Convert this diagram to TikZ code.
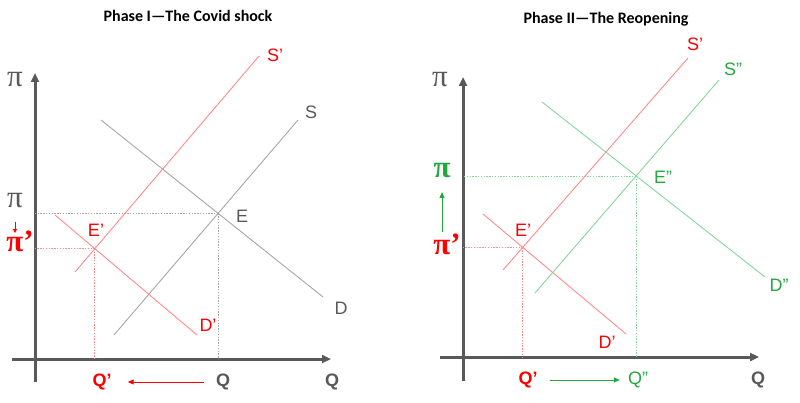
\documentclass[tikz,border=0pt]{standalone}
\usepackage{fontspec}
\setmainfont{Liberation Sans}
\newfontfamily\pifont{Liberation Serif}
\newfontfamily\titlefont{Carlito}
\usetikzlibrary{arrows.meta}
\definecolor{axgray}{HTML}{595959}
\definecolor{lngray}{HTML}{A6A6A6}
\definecolor{lbred}{HTML}{FF0000}
\definecolor{lnred}{HTML}{FF8A8C}
\definecolor{lbgreen}{HTML}{22A83C}
\definecolor{lngreen}{HTML}{86D69A}
\begin{document}
\begin{tikzpicture}[x=1pt,y=-1pt,
  axis/.style={line width=3pt,color=axgray,-{Triangle[length=9pt,width=8pt]}},
  curve/.style={line width=0.9pt},
  guide/.style={line width=0.8pt,dash pattern=on 1.4pt off 1.4pt},
  lbl/.style={font=\fontsize{18}{18}\selectfont,inner sep=0pt},
  qlbl/.style={font=\fontsize{18}{18}\selectfont\bfseries,inner sep=0pt},
  pilbl/.style={font=\fontsize{31}{31}\selectfont\pifont,inner sep=0pt},
  pibold/.style={font=\fontsize{31}{31}\selectfont\pifont\bfseries,inner sep=0pt},
  ttl/.style={font=\fontsize{16}{17}\selectfont\titlefont\bfseries,inner sep=0pt},
  shiftarrow/.style={line width=1pt,-{Triangle[length=6pt,width=5pt]}}]
\useasboundingbox (0,0) rectangle (800,403);
% ---------------- Panel I ----------------
\node[ttl] (t1) at (188,16) {Phase I—The Covid shock};
\coordinate (ay1b) at (35,382); \coordinate (ay1t) at (35,73);
\coordinate (ax1l) at (12,359); \coordinate (ax1r) at (331,359);
\draw[axis] (ay1b) -- (ay1t);
\draw[axis] (ax1l) -- (ax1r);
\coordinate (S1a) at (114,335); \coordinate (S1b) at (298,120);
\coordinate (D1a) at (101,120); \coordinate (D1b) at (323,297);
\coordinate (Sp1a) at (75,272); \coordinate (Sp1b) at (259,56);
\coordinate (Dp1a) at (55,215); \coordinate (Dp1b) at (197,335);
\coordinate (E1) at (intersection of S1a--S1b and D1a--D1b);
\coordinate (Ep1) at (intersection of Sp1a--Sp1b and Dp1a--Dp1b);
\draw[guide,lngray] (E1) -- (E1 -| ay1b);
\draw[guide,lngray] (E1) -- (E1 |- ax1l);
\draw[guide,lnred] (Ep1) -- (Ep1 -| ay1b);
\draw[guide,lnred] (Ep1) -- (Ep1 |- ax1l);
\draw[curve,lngray] (S1a) -- (S1b);
\draw[curve,lngray] (D1a) -- (D1b);
\draw[curve,lnred] (Sp1a) -- (Sp1b);
\draw[curve,lnred] (Dp1a) -- (Dp1b);
\node[pilbl,axgray] (pax1) at (15,80) {π};
\node[lbl,lbred] (lSp1) at (275,55) {S’};
\node[lbl,axgray] (lS1) at (311,112) {S};
\node[lbl,axgray] (lE1) at (242,216) {E};
\node[lbl,lbred] (lEp1) at (96,230) {E’};
\node[lbl,axgray] (lD1) at (341,308) {D};
\node[lbl,lbred] (lDp1) at (208,325) {D’};
\node[pilbl,axgray] (pi1) at (15,201) {π};
\node[pibold,lbred] (pip1) at (20,241) {π’};
\coordinate (a1s) at (15,222); \coordinate (a1e) at (15,233);
\draw[line width=0.9pt,lbred,-{Triangle[length=4pt,width=4pt]}] (a1s) -- (a1e);
\node[qlbl,lbred] (qp1) at (102,382) {Q’};
\node[qlbl,axgray] (q1) at (223,382) {Q};
\node[qlbl,axgray] (qax1) at (332,382) {Q};
\draw[shiftarrow,lbred] ([xshift=-12pt]q1.west) -- ([xshift=16pt]qp1.east);
% ---------------- Panel II ----------------
\node[ttl] (t2) at (606,19) {Phase II—The Reopening};
\coordinate (ay2b) at (463,381); \coordinate (ay2t) at (463,77);
\coordinate (ax2l) at (440,357); \coordinate (ax2r) at (759,357);
\draw[axis] (ay2b) -- (ay2t);
\draw[axis] (ax2l) -- (ax2r);
\coordinate (Sp2a) at (503,270); \coordinate (Sp2b) at (688,58);
\coordinate (Dp2a) at (483,214); \coordinate (Dp2b) at (626,334);
\coordinate (Spp2a) at (535,293); \coordinate (Spp2b) at (719,80);
\coordinate (Dpp2a) at (542,102); \coordinate (Dpp2b) at (765,277);
\coordinate (Ep2) at (intersection of Sp2a--Sp2b and Dp2a--Dp2b);
\coordinate (Epp2) at (intersection of Spp2a--Spp2b and Dpp2a--Dpp2b);
\draw[guide,lngreen] (Epp2) -- (Epp2 -| ay2b);
\draw[guide,lngreen] (Epp2) -- (Epp2 |- ax2l);
\draw[guide,lnred] (Ep2) -- (Ep2 -| ay2b);
\draw[guide,lnred] (Ep2) -- (Ep2 |- ax2l);
\draw[curve,lnred] (Sp2a) -- (Sp2b);
\draw[curve,lnred] (Dp2a) -- (Dp2b);
\draw[curve,lngreen] (Spp2a) -- (Spp2b);
\draw[curve,lngreen] (Dpp2a) -- (Dpp2b);
\node[pilbl,axgray] (pax2) at (440,80) {π};
\node[lbl,lbred] (lSp2) at (695,44) {S’};
\node[lbl,lbgreen] (lSpp2) at (733,69) {S”};
\node[lbl,lbgreen] (lEpp2) at (663,177) {E”};
\node[lbl,lbred] (lEp2) at (523,230) {E’};
\node[lbl,lbgreen] (lDpp2) at (779,285) {D”};
\node[lbl,lbred] (lDp2) at (607,342) {D’};
\node[pibold,lbgreen] (pi2) at (442,171) {π};
\node[pibold,lbred] (pip2) at (447,244) {π’};
\coordinate (a2s) at (442,232); \coordinate (a2e) at (442,192);
\draw[line width=1pt,lbgreen,-{Triangle[length=6pt,width=5pt]}] (a2s) -- (a2e);
\node[qlbl,lbred] (qp2) at (528,380) {Q’};
\node[lbl,lbgreen] (qpp2) at (638,380) {Q”};
\node[qlbl,axgray] (qax2) at (758,380) {Q};
\draw[shiftarrow,lbgreen] ([xshift=12pt]qp2.east) -- ([xshift=-8pt]qpp2.west);
\end{tikzpicture}
\end{document}
